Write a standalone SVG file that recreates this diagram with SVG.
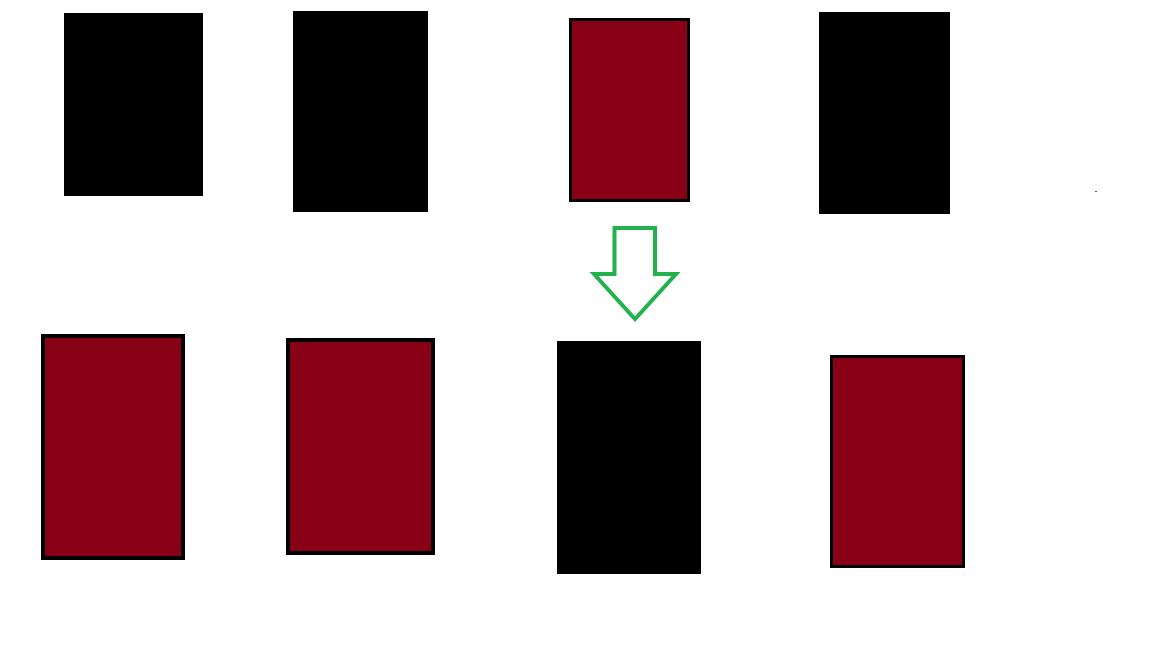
<svg xmlns="http://www.w3.org/2000/svg" width="1152" height="648" viewBox="0 0 1152 648">
<style>
.blk{fill:#000000}
.red{fill:#880015;stroke:#000000}
.arrow{fill:#ffffff;stroke:#22b14c;stroke-width:4;stroke-linejoin:miter}
</style>
<rect width="1152" height="648" fill="#ffffff"/>
<g id="top1"><rect class="blk" x="64" y="13" width="139" height="183"/></g>
<g id="top2"><rect class="blk" x="293" y="11" width="135" height="201"/></g>
<g id="top3"><rect class="red" x="570.5" y="19.5" width="118" height="181" stroke-width="3"/></g>
<g id="top4"><rect class="blk" x="819" y="12" width="131" height="202"/></g>
<g id="bot1"><rect class="red" x="43" y="336" width="140" height="222" stroke-width="4"/></g>
<g id="bot2"><rect class="red" x="288" y="340" width="145" height="213" stroke-width="4"/></g>
<g id="bot3"><rect class="blk" x="557" y="341" width="144" height="233"/></g>
<g id="bot4"><rect class="red" x="831.5" y="356.5" width="132" height="210" stroke-width="3"/></g>
<g id="connectors">
<path class="arrow" d="M614.5,228 L655,228 L655,274 L676,274 L635,319 L594,274 L614.5,274 Z"/>
</g>
<rect x="1095" y="191" width="2" height="1" fill="#555555"/>
</svg>
